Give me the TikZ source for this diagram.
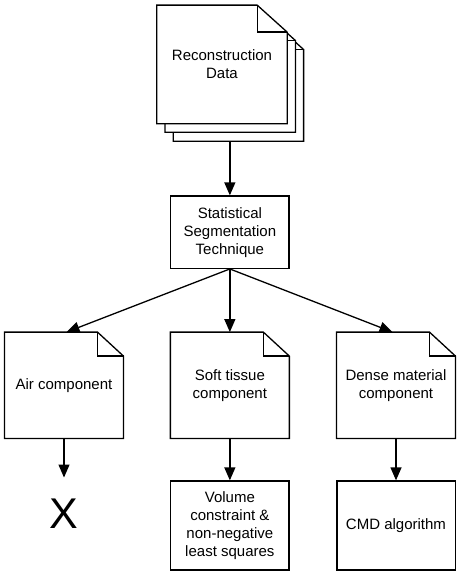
\documentclass[tikz,border=0pt]{standalone}
\usepackage{fontspec}
\setmainfont{Liberation Sans}
\usetikzlibrary{arrows.meta}
\tikzset{
  shapeline/.style={line width=1.3pt, line join=miter, draw=black},
  txt/.style={font=\fontsize{15}{18}\selectfont, align=center, inner sep=0pt},
  boxnode/.style={txt, draw=black, line width=1.3pt, minimum width=118.3pt},
  docbody/.style={txt, minimum width=118.6pt, minimum height=106pt},
  arr/.style={line width=1.3pt, -{Triangle[length=13pt,width=11pt]}},
}
\newcommand\docoutline[4]{% name, fold x, fold y, fill
  \draw[shapeline, fill=#4] (#1.north west) -- ([xshift=-#2]#1.north east) -- ([yshift=-#3]#1.north east)
    -- (#1.south east) -- (#1.south west) -- cycle;
  \draw[shapeline] ([xshift=-#2]#1.north east) -- ([xshift=-#2,yshift=-#3]#1.north east) -- ([yshift=-#3]#1.north east);
}
\begin{document}
\begin{tikzpicture}[x=1pt,y=-1pt]
\useasboundingbox (0,0) rectangle (459,575);
% stacked documents
\node[txt, minimum width=130pt, minimum height=118.3pt] (rec3) at (238.4,81.85) {};
\docoutline{rec3}{30pt}{27pt}{white}
\node[txt, minimum width=130pt, minimum height=118.3pt] (rec2) at (230.2,72.85) {};
\docoutline{rec2}{30pt}{27pt}{white}
\node[txt, fill=white, minimum width=130pt, minimum height=118.3pt] (rec) at (222,64.5) {Reconstruction\\Data};
\docoutline{rec}{30pt}{27pt}{none}
% segmentation
\node[boxnode, minimum height=72.3pt] (stat) at (229.85,232.15) {Statistical\\Segmentation\\Technique};
% component documents
\node[docbody] (air) at (64,385.3) {Air component};
\docoutline{air}{26pt}{24pt}{none}
\node[docbody] (soft) at (229.85,385.3) {Soft tissue\\component};
\docoutline{soft}{26pt}{24pt}{none}
\node[docbody] (dense) at (396,385.3) {Dense material\\component};
\docoutline{dense}{26pt}{24pt}{none}
% bottom row
\node[inner xsep=0pt, inner ysep=21.5pt, font=\fontsize{43}{43}\selectfont] (xmark) at (64,514) {X};
\node[boxnode, minimum height=89pt] (vol) at (229.85,525.5) {Volume\\constraint \&\\non-negative\\least squares};
\node[boxnode, minimum height=89pt] (cmd) at (396,525.5) {CMD algorithm};
% connectors
\draw[arr] (stat.north |- rec3.south) -- (stat.north);
\draw[arr] (stat.south) -- ([xshift=2.5pt]air.north);
\draw[arr] (stat.south) -- (soft.north);
\draw[arr] (stat.south) -- ([xshift=-3.5pt]dense.north);
\draw[arr] (air.south) -- (xmark.north);
\draw[arr] (soft.south) -- (vol.north);
\draw[arr] (dense.south) -- (cmd.north);
\end{tikzpicture}
\end{document}
